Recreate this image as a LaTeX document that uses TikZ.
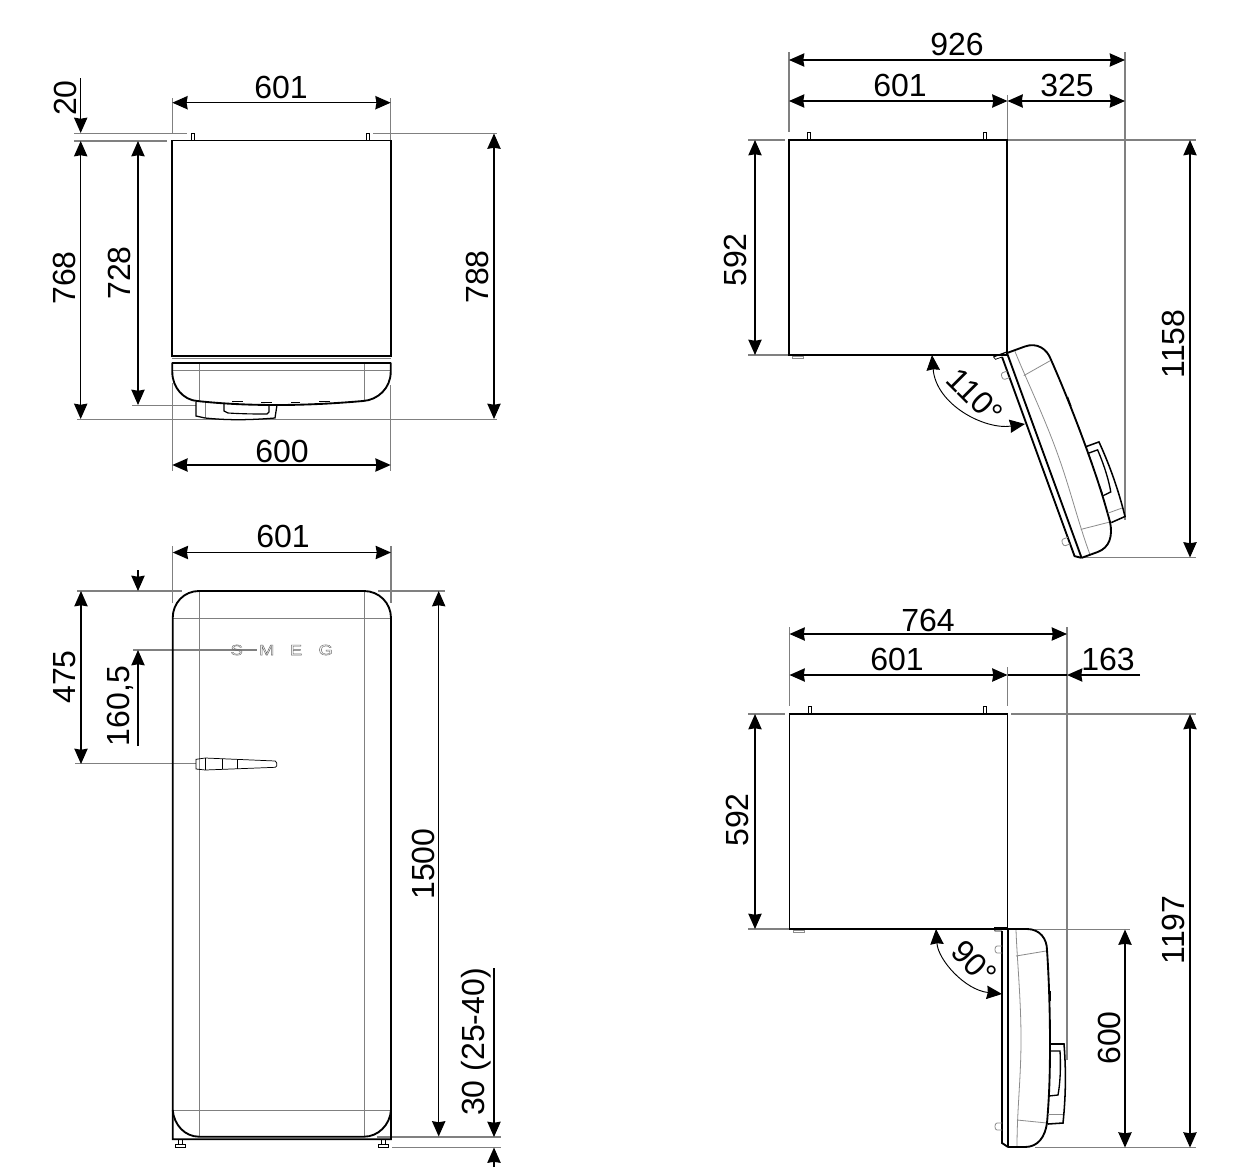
\documentclass[tikz,border=0pt]{standalone}
\usepackage{fontspec}
\setmainfont{Liberation Sans}
\usetikzlibrary{arrows.meta}
\definecolor{ext}{gray}{0.5}
\definecolor{thin}{gray}{0.3}
\definecolor{soft}{gray}{0.55}
\tikzset{
  x=0.75pt,y=-0.75pt,
  tipb/.tip={Stealth[length=11.5pt,width=10pt,inset=0.8pt]},
  dimline/.style={black,line width=1.05pt,{tipb}-{tipb}},
  dimend/.style={black,line width=1.05pt,-{tipb}},
  extline/.style={ext,line width=0.8pt},
  innerl/.style={ext,line width=0.55pt},
  body/.style={black,line width=1.4pt},
  fine/.style={thin,line width=0.55pt},
  softl/.style={soft,line width=0.6pt},
  lab/.style={inner sep=0pt,font=\fontsize{24}{28}\selectfont},
  pics/door/.style={code={
    % gasket
    \draw[body] (0,0) -- (0,218);
    \draw[body] (-6,2) -- (-6,214) -- (0,218);
    \draw[fine] (-14,-1) -- (-13,2) -- (-6,2);
    \draw[body,line width=0.9pt] (-14,-1) -- (0,-1);
    % hinge pins
    \draw[softl] (-6,17) -- (-11,17) to[out=180,in=180] (-11,24) -- (-6,24);
    \draw[softl] (-6,194) -- (-11,194) to[out=180,in=180] (-11,201) -- (-6,201);
    % inner grey lines
    \draw[softl] (8,1) .. controls (9,30) and (13,70) .. (13,110) .. controls (13,150) and (9,180) .. (9,218);
    \draw[softl] (8,27) -- (38,22);
    \draw[softl] (9,191) -- (39,194);
    % shell
    \draw[body] (0,0) -- (19,0) .. controls (32,0) and (39,10) .. (39,21)
       .. controls (41,50) and (42,85) .. (42,114) .. controls (42,150) and (41,170) .. (39,194)
       .. controls (37,208) and (30,218) .. (17,218) -- (0,218);
    % handle
    \draw[body,line width=1.15pt] (41.5,115) -- (56,115) .. controls (58,140) and (58,165) .. (55,194) -- (40,195);
    \draw[body,line width=1pt] (41.5,122) -- (52,122) .. controls (53,140) and (52,155) .. (50,166) -- (41,167);
    \draw[softl] (40,185) -- (55,185);
    % front dashes
    \draw[thin,line width=0.8pt] (42,62) -- (42,72) (42,92) -- (42,102) (42,122) -- (42,134) (41.5,155) -- (41.5,165);
  }}
}
\begin{document}
\begin{tikzpicture}
\useasboundingbox[fill=white] (0,0) rectangle (1238,1174);

% ===== TOP-LEFT plan view =====
\draw[extline] (172.3,98) -- (172.3,133) (390.7,98) -- (390.7,140);
\draw[extline] (172.3,383) -- (172.3,471) (390.7,385) -- (390.7,471);
\draw[extline] (74,133.3) -- (187,133.3) (373,133.3) -- (497,133.3);
\draw[extline] (74,141) -- (167,141);
\draw[extline] (77,419.5) -- (497,419.5);
\draw[extline] (132,405.5) -- (196,405.5);
\draw[body] (172.3,140.5) rectangle (390.7,355.7);
\draw[fine] (191,140) -- (191,133) -- (194,133) -- (194,140);
\draw[fine] (366,140) -- (366,133) -- (369,133) -- (369,140);
\draw[innerl] (172.3,358.5) -- (390.7,358.5);
\draw[innerl] (172.3,370.7) -- (390.7,370.7);
\draw[innerl] (199,363) -- (199,401) (364,363) -- (364,401) (205,403) -- (205,418);
\draw[body] (172.3,362.7) -- (390.7,362.7);
\draw[body] (172.3,362.7) -- (172.3,372) .. controls (172.3,388) and (184,400) .. (197,401)
   .. controls (225,404) and (250,405) .. (277,405) .. controls (310,405) and (340,403) .. (363,401)
   .. controls (378,400) and (390.7,388) .. (390.7,372) -- (390.7,362.7);
\draw[body,line width=0.95pt] (196,402) -- (196,416) -- (205,418) .. controls (225,420) and (245,420.5) .. (275,418) -- (277,405);
\draw[body,line width=0.85pt] (224,404) -- (224,411) -- (228,413) .. controls (245,414) and (255,414) .. (267,414) -- (269,412) -- (269,405);
\draw[fine,line width=0.8pt] (232,401.7) -- (243,401.7) (261,402.3) -- (272,402.3) (291,402.3) -- (300,402.3) (319,401.7) -- (330,401.7);

\draw[dimline] (172.3,102.7) -- (390.7,102.7);
\draw[dimline] (172.3,465) -- (390.7,465);
\draw[dimend] (80.7,78) -- (80.7,133);
\draw[dimline] (80.7,141) -- (80.7,419);
\draw[dimline] (138,141) -- (138,405);
\draw[dimline] (494,133.5) -- (494,419);
\node[lab] (a601) at (281,87) {601};
\node[lab] (a600) at (282,451) {600};
\node[lab,rotate=90] (a20) at (65,98) {20};
\node[lab,rotate=90] (a768) at (64,278) {768};
\node[lab,rotate=90] (a728) at (119,273) {728};
\node[lab,rotate=90] (a788) at (477,277) {788};

% ===== FRONT view =====
\draw[extline] (172.7,546) -- (172.7,603) (391,546) -- (391,603);
\draw[extline] (77,591) -- (182,591) (378,591) -- (445,591);
\draw[extline] (75,763.5) -- (196,763.5);
\draw[extline] (133,650) -- (257,650);
\draw[extline] (377,1137) -- (501,1137) (392,1147.5) -- (501,1147.5);
\draw[innerl] (199,591) -- (199,1137) (364,591) -- (364,1137);
\draw[innerl] (172.7,618) -- (391,618) (172.7,1110) -- (391,1110);
\draw[body] (172.7,618) .. controls (172.7,603) and (184,591) .. (199,591) -- (364,591) .. controls (379,591) and (391,603) .. (391,618) -- (391,1139.3) -- (172.7,1139.3) -- cycle;
\draw[body] (172.7,1110) .. controls (174,1125) and (185,1136.7) .. (199,1136.7) -- (364,1136.7) .. controls (378,1136.7) and (390,1125) .. (391,1110);
\draw[fine] (178,1140) -- (178,1144) (182,1140) -- (182,1144);
\draw[fine] (175.5,1144) rectangle (185,1147.5);
\draw[fine] (381,1140) -- (381,1144) (385,1140) -- (385,1144);
\draw[fine] (378.5,1144) rectangle (388,1147.5);
\draw[fine] (196,759.3) -- (205.3,758) -- (275.3,761) -- (276.7,763) -- (276.7,766) -- (275.3,767.3) -- (205.3,770) -- (196,769) -- cycle;
\draw[fine] (222.7,758.8) -- (222.7,769.3) (237.3,759.4) -- (237.3,768.8) (205.3,758) -- (205.3,770);
\foreach \n/\px/\t in {s/236.7/S,m/266.7/M,e/296/E,g/325.7/G}{
  \node[inner sep=0pt,text=ext,font=\fontsize{11}{12}\selectfont] (smeg\n) at (\px,650) {\scalebox{1.25}[1]{\special{pdf:code 1 Tr 0.3 w 0.4 G}\t\special{pdf:code 0 Tr}}};
}
\draw[dimline] (172.7,552.5) -- (391,552.5);
\draw[dimline] (81,591) -- (81,764);
\draw[dimend] (138,570) -- (138,591);
\draw[dimend] (138,746) -- (138,650);
\draw[dimline] (438.7,591) -- (438.7,1136.5);
\draw[dimend] (494,968) -- (494,1137);
\draw[dimend] (494,1167) -- (494,1147.5);
\node[lab] (b601) at (283,536) {601};
\node[lab,rotate=90] (b475) at (65,677) {475};
\node[lab,rotate=90] (b160) at (120,706) {160,5};
\node[lab,rotate=90] (b1500) at (423,864) {1500};
\node[lab,rotate=90] (b30) at (476,1042) {30 (25-40)};

% ===== TOP-RIGHT 110 degree =====
\draw[extline] (789,52) -- (789,132) (1007.5,95) -- (1007.5,140) (1125,52) -- (1125,520);
\draw[extline] (748,140) -- (785,140) (1007,140) -- (1196,140);
\draw[extline] (748,355) -- (790,355) (1082,557.5) -- (1196,557.5);
\draw[body] (789,140) rectangle (1007,355);
\draw[fine] (807,140) -- (807,132) -- (810,132) -- (810,140);
\draw[fine] (983,140) -- (983,132) -- (986,132) -- (986,140);
\draw[softl] (792,356) rectangle (803,358.5);
\pic[rotate=20] at (1007,353) {door};
\draw[dimline] (789,60) -- (1125,60);
\draw[dimline] (789,101) -- (1007.5,101);
\draw[dimline] (1007.5,101) -- (1125,101);
\draw[dimline] (755,140) -- (755,355);
\draw[dimline] (1190,140) -- (1190,557.5);
\draw[dimline,line width=0.7pt] (932,355) .. controls (936,405) and (985,430) .. (1025,424);
\node[lab] (c926) at (957,44) {926};
\node[lab] (c601) at (900,85) {601};
\node[lab] (c325) at (1067,85) {325};
\node[lab,rotate=90] (c592) at (735,260) {592};
\node[lab,rotate=90] (c1158) at (1173,344) {1158};
\node[lab,rotate=-45] (c110) at (975,396) {110°};

% ===== BOTTOM-RIGHT 90 degree =====
\draw[extline] (789.5,627) -- (789.5,706) (1007.5,667) -- (1007.5,706) (1067,627) -- (1067,1060);
\draw[extline] (748,714) -- (785,714) (1011,714) -- (1196,714);
\draw[extline] (748,929) -- (790,929) (1035,929.5) -- (1130,929.5);
\draw[extline] (1035,1147.6) -- (1196,1147.6);
\draw[body] (789.5,714) rectangle (1007.5,929);
\draw[fine] (808.5,714) -- (808.5,706) -- (811.5,706) -- (811.5,714);
\draw[fine] (983,714) -- (983,706) -- (986,706) -- (986,714);
\draw[softl] (793,930) rectangle (804,932);
\pic at (1008,929) {door};
\draw[dimline] (789.5,634) -- (1067,634);
\draw[dimline] (789.5,675) -- (1007.5,675);
\draw[black,line width=1.05pt] (1007.5,675) -- (1067,675);
\draw[dimend] (1140,675) -- (1067,675);
\draw[dimline] (755,714) -- (755,929);
\draw[dimline] (1125,929.5) -- (1125,1147.6);
\draw[dimline] (1190,714) -- (1190,1147.6);
\draw[dimline,line width=0.7pt] (936,929) .. controls (938,960) and (965,990) .. (1002,994);
\node[lab] (d764) at (928,620) {764};
\node[lab] (d601) at (897,659) {601};
\node[lab] (d163) at (1108,659) {163};
\node[lab,rotate=90] (d592) at (737,820) {592};
\node[lab,rotate=90] (d600) at (1109,1038) {600};
\node[lab,rotate=90] (d1197) at (1173,930) {1197};
\node[lab,rotate=-45] (d90) at (974,963) {90°};
\end{tikzpicture}
\end{document}
